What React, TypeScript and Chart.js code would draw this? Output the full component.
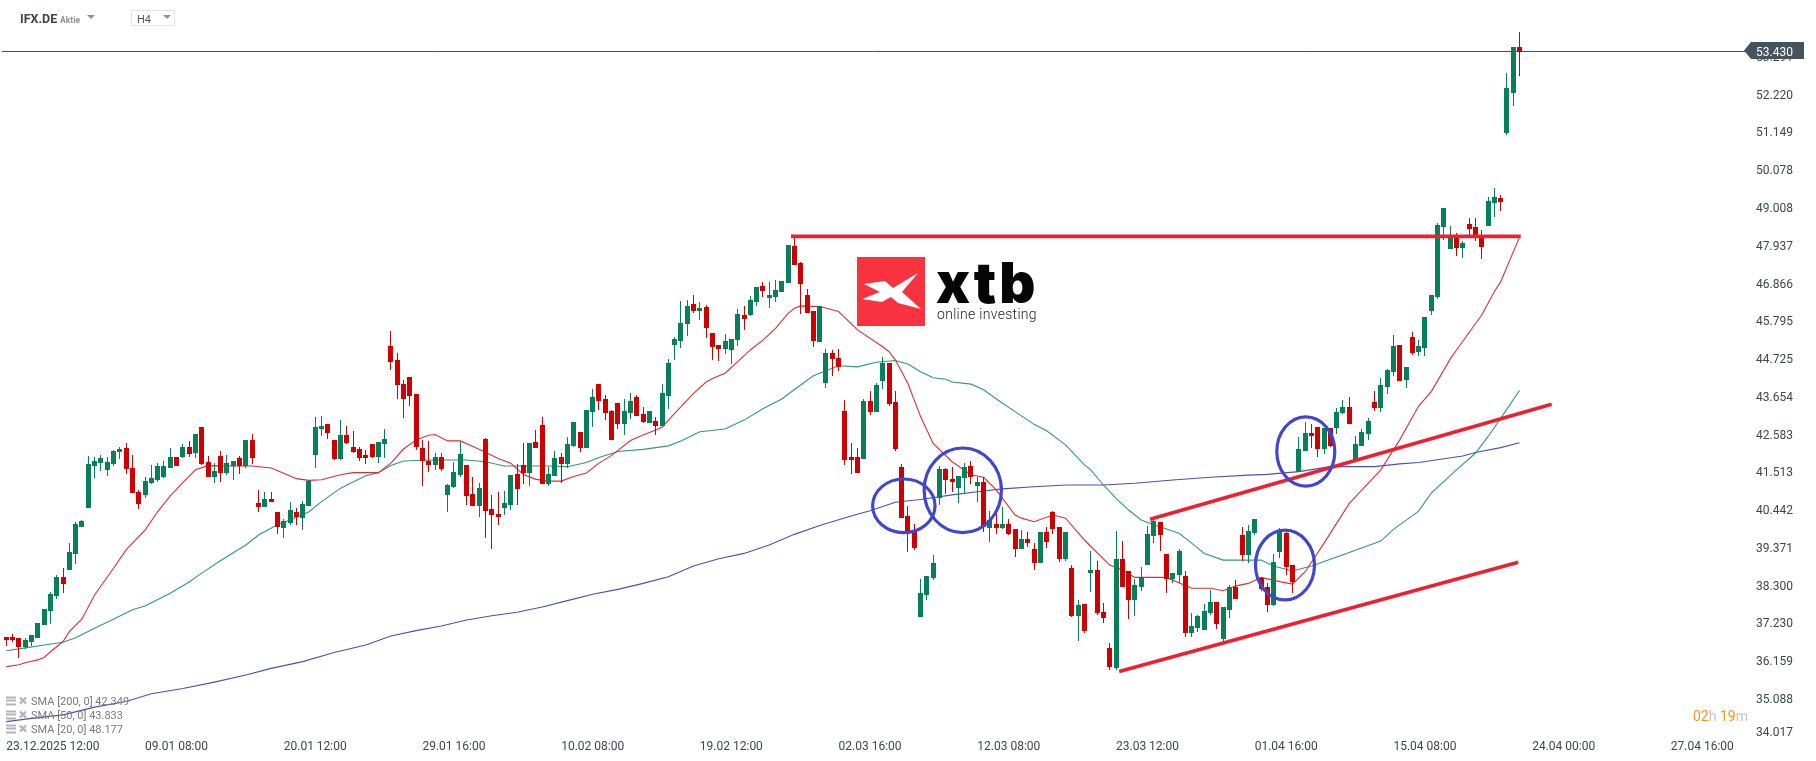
import { useEffect, useRef } from 'react';
import { Chart, registerables } from 'chart.js';

Chart.register(...registerables);

// candles, one per 4h bar
const candleOpen = [
  36.83,36.84,36.81,36.56,36.70,36.81,37.18,37.58,38.00,38.54,
  38.74,39.19,39.96,40.50,41.69,41.77,41.58,41.75,42.09,42.20,
  41.63,40.95,40.87,41.21,41.29,41.38,41.63,41.94,41.94,42.23,
  42.06,42.79,41.80,41.38,41.97,41.49,41.69,41.92,41.69,42.43,
  40.64,40.53,40.75,40.39,39.93,40.07,40.39,40.21,40.55,42.00,
  42.74,42.88,42.43,41.89,42.57,42.23,42.17,42.00,42.31,41.94,
  42.31,45.09,44.70,44.01,44.21,43.73,42.20,41.83,41.72,41.94,
  40.87,41.09,41.43,41.72,40.90,40.55,42.45,40.47,40.33,40.50,
  40.58,41.46,41.72,41.49,42.37,42.85,41.18,41.41,41.94,41.75,
  42.26,42.65,42.20,43.22,44.01,43.59,43.25,43.48,42.88,43.19,
  43.65,43.16,42.91,42.97,42.82,43.67,45.12,45.23,45.72,46.28,
  46.09,46.20,45.46,45.12,45.01,44.98,45.26,45.97,45.97,46.34,
  46.79,46.45,46.48,46.62,46.88,47.93,47.45,46.54,46.09,45.20,
  44.04,44.89,44.75,43.25,41.94,41.94,41.89,43.53,43.22,44.10,
  44.61,43.50,41.66,40.27,39.85,37.41,38.03,38.51,40.78,41.60,
  41.32,41.07,41.35,41.69,41.12,41.24,39.93,40.05,39.93,40.05,
  39.90,39.34,39.62,39.34,38.94,39.82,40.39,39.96,39.05,38.80,
  37.44,37.78,38.66,38.74,37.55,36.53,35.96,39.05,38.71,37.89,
  38.26,38.88,39.70,40.10,39.19,38.49,38.60,38.57,36.95,37.10,
  37.04,37.52,37.83,36.78,37.61,38.26,39.73,39.17,39.79,38.51,
  38.26,37.75,39.25,39.79,38.88,41.52,42.11,42.63,42.80,42.17,
  42.77,42.77,43.19,43.36,41.86,42.26,42.60,43.50,43.33,43.93,
  44.36,45.12,44.13,45.35,44.92,45.04,46.09,46.48,48.47,47.84,
  48.18,47.87,48.55,48.47,48.18,48.50,49.15,49.29,51.13,52.27,
  53.57,
];
const candleHigh = [
  36.83,36.93,36.82,36.80,36.90,37.25,37.64,38.12,38.59,38.80,
  39.51,40.10,40.15,41.97,41.93,41.99,41.94,42.14,42.22,42.34,
  42.00,41.01,41.38,41.72,41.77,41.83,42.20,41.94,42.31,42.40,
  42.60,42.79,41.97,41.77,42.11,42.00,41.83,41.97,42.43,42.60,
  41.01,40.95,40.95,40.39,40.19,40.67,40.50,40.70,41.29,43.08,
  43.11,42.88,42.43,42.99,42.82,42.68,42.23,42.14,42.31,42.37,
  42.74,45.52,44.89,44.13,44.21,43.73,42.43,42.40,42.06,42.06,
  41.18,41.80,42.40,41.72,41.38,41.21,42.48,40.87,40.95,40.98,
  41.43,41.75,42.34,42.34,42.71,43.08,41.66,42.11,42.06,42.51,
  42.94,42.65,43.28,43.87,44.01,43.70,43.28,43.48,43.59,43.76,
  43.70,43.36,43.25,43.08,44.01,44.72,45.35,46.37,46.40,46.54,
  46.34,46.26,45.46,45.12,45.43,45.29,46.14,46.23,46.51,46.77,
  46.91,46.91,46.96,46.94,47.96,48.18,47.47,46.71,46.09,46.23,
  45.01,44.98,45.01,43.56,42.34,42.20,43.59,43.82,44.04,44.78,
  44.61,43.82,41.75,40.56,40.05,38.49,38.57,39.17,41.69,41.63,
  41.66,41.40,41.77,41.83,41.38,41.38,40.41,40.53,40.53,40.19,
  39.90,39.87,39.82,39.51,39.82,39.96,40.41,39.96,39.82,38.88,
  37.89,37.78,39.28,38.99,37.81,36.67,39.85,39.56,38.71,38.49,
  38.83,39.99,40.24,40.10,39.19,38.65,39.34,38.71,37.52,37.46,
  37.78,38.17,37.83,37.69,38.31,38.46,39.96,40.02,40.19,38.53,
  38.37,39.19,39.93,39.82,38.88,42.51,42.94,42.88,42.80,42.77,
  42.77,43.33,43.56,43.65,42.54,42.74,43.05,43.82,44.19,44.44,
  45.41,45.12,44.50,45.49,45.26,45.91,46.54,48.58,49.01,48.50,
  48.30,48.07,48.72,48.72,48.38,49.32,49.57,49.37,52.83,53.57,
  54.00,
];
const candleLow = [
  36.57,36.71,36.25,36.49,36.57,36.80,37.18,37.22,37.92,38.09,
  38.74,38.91,39.95,40.50,41.35,41.55,41.41,41.69,41.89,41.46,
  40.92,40.47,40.78,41.18,41.23,41.35,41.63,41.69,41.92,41.94,
  41.92,41.72,41.38,41.21,41.24,41.43,41.29,41.46,41.63,41.75,
  40.39,40.53,40.67,39.76,39.65,40.02,40.02,39.87,40.55,41.63,
  42.54,42.45,41.86,41.86,42.30,42.06,41.83,41.75,41.92,41.77,
  41.92,44.41,43.60,43.05,43.39,42.14,41.12,41.52,41.58,41.55,
  40.39,41.07,41.38,40.58,40.55,40.24,39.66,39.34,40.02,40.30,
  40.44,40.58,41.18,41.12,42.20,41.18,41.12,41.41,41.21,41.63,
  42.23,42.09,42.20,42.80,43.28,42.99,42.43,42.74,42.57,43.02,
  43.11,42.91,42.91,42.57,42.82,43.31,44.70,45.04,45.37,46.03,
  45.83,45.32,44.70,44.67,44.87,44.58,45.09,45.55,45.94,46.23,
  46.48,46.17,46.34,46.62,46.88,47.39,46.00,46.03,45.06,45.20,
  43.90,44.24,44.38,41.72,41.46,41.49,41.89,43.13,43.22,43.87,
  43.39,42.11,40.21,39.25,39.31,37.41,37.89,38.46,40.58,40.89,
  40.95,40.64,40.89,41.18,40.67,39.82,39.53,39.76,39.90,39.73,
  39.11,39.34,39.39,38.74,38.94,39.36,39.76,38.97,38.99,37.41,
  36.73,36.95,38.12,37.46,37.24,35.90,35.90,38.26,37.35,37.44,
  38.15,38.88,39.51,39.28,38.09,38.37,38.37,36.84,36.84,36.98,
  37.04,37.46,37.07,36.70,37.38,37.92,38.99,38.94,39.73,38.15,
  37.55,37.72,39.08,38.60,38.09,41.52,42.11,42.20,41.94,42.03,
  42.23,42.60,43.17,42.88,41.86,42.26,42.43,43.25,43.22,43.73,
  44.24,44.10,43.90,44.84,44.81,44.81,45.97,46.42,48.10,47.84,
  47.64,47.59,48.21,48.07,47.56,48.50,48.75,48.92,51.08,51.90,
  52.75,
];
const candleClose = [
  36.76,36.76,36.56,36.75,36.90,37.24,37.63,38.06,38.54,38.34,
  39.25,40.04,40.13,41.75,41.83,41.92,41.80,42.11,42.17,41.60,
  40.92,40.61,41.26,41.35,41.69,41.69,41.94,41.69,42.23,42.03,
  42.60,41.75,41.38,41.55,41.49,41.77,41.83,41.69,42.43,41.92,
  40.53,40.75,40.67,39.96,40.13,40.44,40.24,40.61,41.26,42.80,
  42.82,42.63,41.89,42.57,42.34,42.09,41.92,41.92,41.94,42.37,
  42.45,44.64,43.99,43.59,43.67,42.23,41.83,41.72,41.94,41.60,
  41.15,41.52,42.03,40.84,40.55,41.07,40.41,40.30,40.24,40.64,
  41.43,41.04,41.49,42.34,42.20,41.18,41.46,41.92,41.75,42.31,
  42.94,42.20,43.28,43.65,43.53,43.19,42.43,42.88,43.25,43.53,
  43.11,42.94,43.25,42.82,43.76,44.61,45.29,45.74,46.23,46.09,
  46.17,45.60,45.06,45.01,45.23,45.29,46.00,45.86,46.40,46.77,
  46.65,46.54,46.68,46.94,47.96,47.39,46.85,46.03,45.23,46.23,
  44.89,44.72,44.50,41.86,41.86,41.49,43.53,43.22,43.99,44.61,
  43.45,42.17,40.21,39.79,39.36,38.09,38.57,38.94,41.60,41.29,
  41.24,41.40,41.66,41.38,41.24,39.96,40.16,39.93,40.05,39.76,
  39.34,39.62,39.51,38.94,39.82,39.53,39.90,39.05,39.82,37.44,
  37.75,37.01,38.74,37.52,37.38,35.99,39.05,38.26,37.89,38.31,
  38.54,39.76,40.13,39.73,38.49,38.65,39.28,36.95,37.15,37.44,
  37.58,37.83,37.21,37.69,38.26,37.92,39.17,39.85,40.19,38.20,
  37.75,38.97,39.82,38.83,38.40,42.17,42.63,42.54,42.17,42.77,
  42.26,43.22,43.36,42.88,42.31,42.65,42.97,43.33,43.99,44.41,
  45.09,44.10,44.50,44.89,45.09,45.91,46.54,48.52,49.01,48.18,
  47.87,48.01,48.41,48.21,47.90,49.20,49.32,49.18,52.41,53.57,
  53.43,
];

const sma20Bars = [0,2,3,5,6,7,9,10,12,14,17,19,22,24,26,28,30,32,36,39,42,44,46,48,50,53,55,59,61,63,65,67,68,70,72,74,76,78,80,82,84,86,88,90,92,94,96,99,101,103,104,106,109,111,112,114,116,118,120,122,124,125,126,129,132,135,139,140,141,142,143,145,147,150,153,155,157,160,161,163,166,168,171,175,177,179,182,184,188,191,193,195,197,199,202,204,206,209,213,218,221,224,226,229,230,234,236,237,240];
const sma20Values = [36.00,36.05,36.11,36.19,36.26,36.42,36.71,36.99,37.35,38.03,38.79,39.31,39.87,40.39,40.84,41.22,41.58,41.70,41.69,41.69,41.63,41.48,41.33,41.28,41.30,41.44,41.50,41.50,41.77,42.17,42.43,42.56,42.58,42.40,42.40,42.24,42.08,41.90,41.77,41.45,41.31,41.26,41.26,41.39,41.49,41.77,41.99,42.41,42.57,42.71,42.79,43.18,43.75,44.07,44.17,44.32,44.65,44.98,45.26,45.59,46.02,46.16,46.23,46.21,46.07,45.55,45.07,44.93,44.70,44.37,44.03,43.09,42.33,41.81,41.44,41.37,41.01,40.30,40.21,40.11,40.30,40.21,39.59,38.88,38.74,38.53,38.53,38.53,38.22,38.22,38.15,38.29,38.36,38.53,38.41,38.34,38.69,39.50,40.63,41.58,42.43,43.39,43.80,44.72,44.98,45.97,46.63,46.91,48.18];

const sma50Bars = [0,3,6,9,11,14,17,20,22,26,29,31,34,38,40,43,45,48,50,53,57,59,61,63,66,70,73,76,79,82,86,89,92,94,97,101,105,107,110,114,117,120,123,125,128,132,135,138,141,143,145,147,149,150,153,155,158,160,162,163,165,168,171,172,174,176,178,180,182,186,188,190,193,196,199,201,204,207,212,218,220,224,226,230,233,235,237,240];
const sma50Values = [36.45,36.53,36.61,36.69,36.82,37.09,37.34,37.61,37.72,38.08,38.40,38.65,39.01,39.45,39.73,40.02,40.16,40.39,40.68,41.06,41.41,41.50,41.70,41.83,41.85,41.86,41.86,41.81,41.69,41.69,41.69,41.67,41.79,41.93,42.10,42.16,42.26,42.40,42.66,42.74,42.99,43.31,43.59,43.86,44.25,44.53,44.50,44.63,44.68,44.58,44.36,44.19,44.15,44.07,44.01,43.85,43.47,43.23,42.99,42.87,42.69,42.29,41.72,41.58,41.15,40.77,40.44,40.16,40.02,39.78,39.50,39.21,39.02,39.02,39.02,38.85,38.71,38.85,39.17,39.56,39.89,40.41,40.92,41.58,42.05,42.52,43.04,43.83];

const sma200Bars = [0,4,9,14,19,23,28,33,38,42,47,52,57,61,65,69,73,77,81,85,89,93,97,101,105,109,113,117,121,125,129,134,137,141,145,150,154,158,163,168,174,179,185,191,197,200,205,210,217,221,224,231,233,237,240];
const sma200Values = [34.44,34.53,34.63,34.85,35.01,35.23,35.38,35.56,35.76,35.95,36.14,36.40,36.61,36.87,37.02,37.15,37.32,37.44,37.54,37.69,37.87,38.05,38.19,38.36,38.55,38.85,39.06,39.21,39.45,39.75,40.00,40.27,40.42,40.66,40.74,40.87,40.96,41.04,41.10,41.15,41.15,41.20,41.29,41.37,41.43,41.45,41.53,41.67,41.67,41.75,41.79,41.97,42.07,42.21,42.35];

// hand drawn trend lines: [first bar, last bar], [first price, last price]
const resistanceBars = [124.45, 240.2];
const resistancePrices = [48.2, 48.2];
const upperChannelBars = [181.4, 245.1];
const upperChannelPrices = [40.18, 43.44];
const lowerChannelBars = [176.5, 239.8];
const lowerChannelPrices = [35.86, 38.96];

// hand drawn circles, centre and radius in bars / price
const circleBars = [142.35, 151.7, 206.1, 202.8];
const circlePrices = [40.56, 41.0, 42.1, 38.88];
const circleBarRadius = [4.95, 6.13, 4.6, 4.68];
const circlePriceRadius = [0.76, 1.2, 0.98, 0.99];

const lastPriceLabel = '53.430';
const lastPriceLine = 53.445;

const yTickValues = [53.291, 52.22, 51.149, 50.078, 49.008, 47.937, 46.866, 45.795, 44.725, 43.654, 42.583, 41.513, 40.442, 39.371, 38.3, 37.23, 36.159, 35.088, 34.147];
const yTickLabels = ['53.291', '52.220', '51.149', '50.078', '49.008', '47.937', '46.866', '45.795', '44.725', '43.654', '42.583', '41.513', '40.442', '39.371', '38.300', '37.230', '36.159', '35.088', '34.017'];

const xTickBars = [0, 22, 44, 66, 88, 110, 132, 154, 176, 198, 220, 242, 264];
const xTickLabels = ['23.12.2025 12:00', '09.01 08:00', '20.01 12:00', '29.01 16:00', '10.02 08:00', '19.02 12:00', '02.03 16:00', '12.03 08:00', '23.03 12:00', '01.04 16:00', '15.04 08:00', '24.04 00:00', '27.04 16:00'];

const legendTexts = ['SMA [200, 0] 42.349', 'SMA [50, 0] 43.833', 'SMA [20, 0] 48.177'];

const GREEN = '#05805a';
const RED = '#d00000';
const TEXT = '#3c4750';
const FONT = 'Roboto, sans-serif';

const xy = (bars: number[], values: number[]) => bars.map((x, i) => ({ x, y: values[i] }));

// keep candles on whole pixels, like the original platform does
const snapCandles = {
  id: 'snapCandles',
  afterDatasetsUpdate(chart: any) {
    chart.data.datasets.forEach((ds: any, i: number) => {
      if (ds.type !== 'bar') return;
      chart.getDatasetMeta(i).data.forEach((el: any) => {
        el.x = Math.round(el.x - 0.5) + 0.5;
        el.y = Math.round(el.y);
        el.base = Math.round(el.base);
      });
    });
  },
};

const circles = {
  id: 'circles',
  afterDatasetsDraw(chart: any) {
    const { ctx, scales } = chart;
    ctx.save();
    ctx.strokeStyle = '#4047cc';
    ctx.lineWidth = 3.2;
    circleBars.forEach((bar, i) => {
      const cx = scales.x.getPixelForValue(bar);
      const cy = scales.y.getPixelForValue(circlePrices[i]);
      const rx = scales.x.getPixelForValue(bar + circleBarRadius[i]) - cx;
      const ry = cy - scales.y.getPixelForValue(circlePrices[i] + circlePriceRadius[i]);
      ctx.beginPath();
      ctx.ellipse(cx, cy, rx, ry, 0, 0, Math.PI * 2);
      ctx.stroke();
    });
    ctx.restore();
  },
};

function triangle(ctx: CanvasRenderingContext2D, x: number, y: number) {
  ctx.fillStyle = '#8d9297';
  ctx.beginPath();
  ctx.moveTo(x, y);
  ctx.lineTo(x + 8, y);
  ctx.lineTo(x + 4, y + 4);
  ctx.closePath();
  ctx.fill();
}

const overlay = {
  id: 'overlay',
  afterDraw(chart: any) {
    const { ctx, scales } = chart;
    ctx.save();
    ctx.textBaseline = 'middle';
    ctx.textAlign = 'left';

    // header
    ctx.fillStyle = '#39444e';
    ctx.font = `bold 12.5px ${FONT}`;
    ctx.fillText('IFX.DE', 20, 20);
    ctx.fillStyle = '#8d9297';
    ctx.font = `bold 8.5px ${FONT}`;
    ctx.fillText('Aktie', 60, 20.5);
    triangle(ctx, 87, 15);
    ctx.strokeStyle = '#e4e4e4';
    ctx.lineWidth = 1;
    ctx.strokeRect(131.5, 10.5, 43, 15);
    ctx.fillStyle = '#555';
    ctx.font = `11px ${FONT}`;
    ctx.fillText('H4', 137, 20.5);
    triangle(ctx, 163, 15);

    // logo
    ctx.fillStyle = '#f8323e';
    ctx.fillRect(857, 257, 68, 69);
    ctx.fillStyle = '#fff';
    ctx.beginPath();
    [[34, 44], [55, 41], [63, 48], [88, 33], [72, 52], [91, 69], [68, 63], [61, 57], [52, 62], [32, 59], [50, 52]].forEach(([px, py], i) => {
      if (i === 0) ctx.moveTo(830 + px, 240 + py);
      else ctx.lineTo(830 + px, 240 + py);
    });
    ctx.closePath();
    ctx.fill();
    ctx.fillStyle = '#050505';
    ctx.textBaseline = 'alphabetic';
    ctx.font = `900 56px Inter, ${FONT}`;
    ctx.letterSpacing = '3px';
    ctx.fillText('xtb', 936, 303);
    ctx.letterSpacing = '0.3px';
    ctx.font = `300 14px ${FONT}`;
    ctx.fillStyle = '#222';
    ctx.fillText('online investing', 937, 319);
    ctx.letterSpacing = '0px';
    ctx.textBaseline = 'middle';

    // last price tag
    const tagY = Math.round(scales.y.getPixelForValue(lastPriceLine));
    ctx.fillStyle = '#44535e';
    ctx.beginPath();
    ctx.moveTo(1744, tagY - 0.5);
    ctx.lineTo(1751, tagY - 9);
    ctx.lineTo(1804, tagY - 9);
    ctx.lineTo(1804, tagY + 8);
    ctx.lineTo(1751, tagY + 8);
    ctx.closePath();
    ctx.fill();
    ctx.fillStyle = '#fff';
    ctx.font = `12px ${FONT}`;
    ctx.fillText(lastPriceLabel, 1756, tagY + 2);

    // indicator legend
    legendTexts.forEach((text, i) => {
      const y = 701.5 + i * 14;
      ctx.fillStyle = '#b4b4b4';
      ctx.fillRect(6, y - 5, 10, 2);
      ctx.fillRect(6, y - 2, 10, 2);
      ctx.fillRect(6, y + 2, 10, 2);
      ctx.strokeStyle = '#b4b4b4';
      ctx.lineWidth = 2.4;
      ctx.beginPath();
      ctx.moveTo(20, y - 4);
      ctx.lineTo(26, y + 2);
      ctx.moveTo(26, y - 4);
      ctx.lineTo(20, y + 2);
      ctx.stroke();
      ctx.fillStyle = '#7a7a7a';
      ctx.font = `11px ${FONT}`;
      ctx.fillText(text, 31, y + 0.5);
    });

    // countdown
    ctx.font = `14px ${FONT}`;
    let x = 1693;
    [['02', '#f7941d'], ['h ', '#c4c4c4'], ['19', '#f7941d'], ['m', '#c4c4c4']].forEach(([part, colour]) => {
      ctx.fillStyle = colour;
      ctx.fillText(part, x, 717.5);
      x += ctx.measureText(part).width;
    });
    ctx.restore();
  },
};

function clearPadding(scale: any) {
  scale.paddingTop = 0;
  scale.paddingBottom = 0;
  scale.paddingLeft = 0;
  scale.paddingRight = 0;
}

export default function App() {
  const canvasRef = useRef<HTMLCanvasElement>(null);

  useEffect(() => {
    if (!canvasRef.current) return;

    const bars = candleOpen.map((_, i) => i);
    const colours = bars.map(i => (candleClose[i] >= candleOpen[i] ? GREEN : RED));
    const trendLine = (b: number[], p: number[]) => ({
      type: 'line',
      data: xy(b, p),
      borderColor: '#ee2030',
      borderWidth: 3.6,
      pointRadius: 0,
      order: 0,
    });
    const smaLine = (b: number[], v: number[], colour: string, order: number) => ({
      type: 'line',
      data: xy(b, v),
      borderColor: colour,
      borderWidth: 1.1,
      pointRadius: 0,
      order,
    });

    const chart = new Chart(canvasRef.current, {
      type: 'bar',
      data: {
        datasets: [
          trendLine(resistanceBars, resistancePrices),
          trendLine(upperChannelBars, upperChannelPrices),
          trendLine(lowerChannelBars, lowerChannelPrices),
          {
            type: 'bar',
            data: bars.map(i => ({ x: i, y: [candleOpen[i], candleClose[i]] })),
            backgroundColor: colours,
            barThickness: 5,
            maxBarThickness: 5,
            grouped: false,
            inflateAmount: 0,
            order: 1,
          },
          {
            type: 'bar',
            data: bars.map(i => ({ x: i, y: [candleLow[i], candleHigh[i]] })),
            backgroundColor: colours,
            barThickness: 1,
            maxBarThickness: 1,
            grouped: false,
            inflateAmount: 0,
            order: 2,
          },
          smaLine(sma20Bars, sma20Values, '#dc2f35', 3),
          smaLine(sma50Bars, sma50Values, '#2f9a74', 4),
          smaLine(sma200Bars, sma200Values, '#4a50b4', 5),
          {
            type: 'line',
            data: [{ x: -0.7, y: lastPriceLine }, { x: 275.76, y: lastPriceLine }],
            borderColor: '#3f4c55',
            borderWidth: 1,
            pointRadius: 0,
            order: 6,
          },
        ] as any,
      },
      options: {
        responsive: false,
        animation: false,
        events: [],
        layout: { padding: 0 },
        plugins: { legend: { display: false }, tooltip: { enabled: false } },
        scales: {
          x: {
            type: 'linear',
            min: -1,
            max: 275.76,
            offset: false,
            grid: { display: false, drawTicks: false },
            border: { display: false },
            afterBuildTicks: (scale: any) => {
              scale.ticks = xTickBars.map(value => ({ value }));
            },
            afterFit: (scale: any) => {
              scale.height = 24;
              clearPadding(scale);
            },
            ticks: {
              autoSkip: false,
              maxRotation: 0,
              align: 'start',
              padding: 3,
              color: TEXT,
              font: { family: FONT, size: 12 },
              callback: (_v: any, i: number) => xTickLabels[i],
            },
          },
          y: {
            type: 'linear',
            position: 'right',
            min: 34.003,
            max: 54.905,
            grid: { display: false, drawTicks: false },
            border: { display: false },
            // canvas text sits a little high, so the label row goes 1px down
            afterBuildTicks: (scale: any) => {
              scale.ticks = yTickValues.map(value => ({ value: value - 0.03 }));
            },
            afterFit: (scale: any) => {
              scale.width = 71;
              clearPadding(scale);
            },
            ticks: {
              autoSkip: false,
              crossAlign: 'near',
              padding: 11,
              color: TEXT,
              font: { family: FONT, size: 12 },
              callback: (_v: any, i: number) => yTickLabels[i],
            },
          },
        },
      } as any,
      plugins: [snapCandles, circles, overlay],
    });

    return () => {
      chart.destroy();
    };
  }, []);

  return (
    <div style={{ position: 'absolute', left: 0, top: 0, width: 1816, height: 761 }}>
      <canvas ref={canvasRef} width={1816} height={761} style={{ display: 'block' }} />
    </div>
  );
}
